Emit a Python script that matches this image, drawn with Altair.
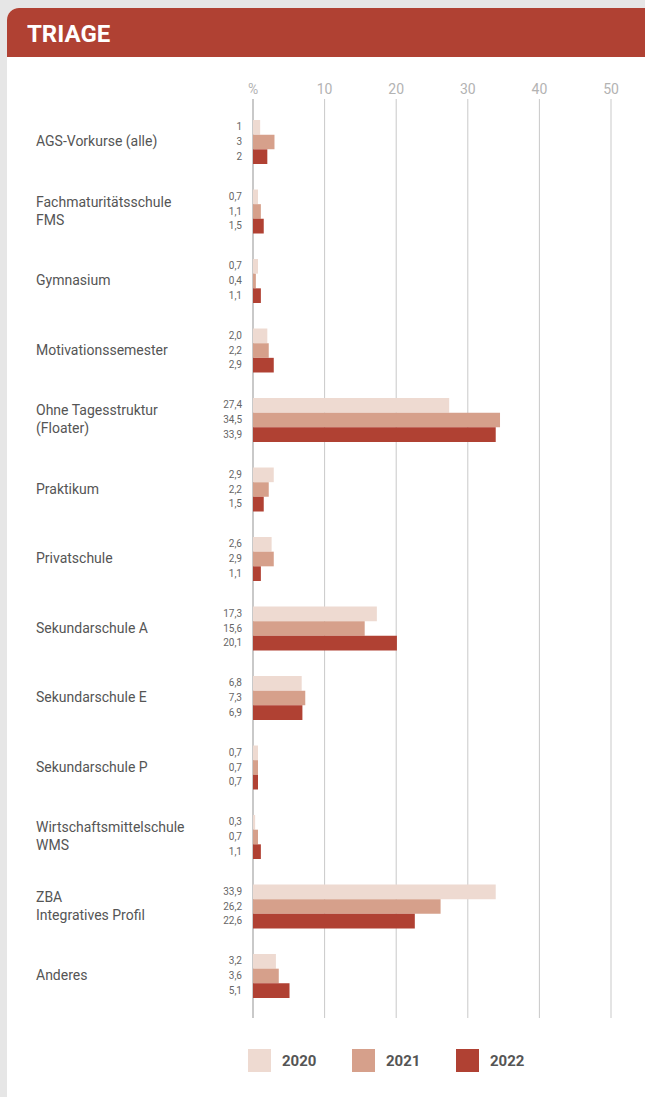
import altair as alt
import pandas as pd

categories = [
    "AGS-Vorkurse (alle)",
    "Fachmaturitätsschule\nFMS",
    "Gymnasium",
    "Motivationssemester",
    "Ohne Tagesstruktur\n(Floater)",
    "Praktikum",
    "Privatschule",
    "Sekundarschule A",
    "Sekundarschule E",
    "Sekundarschule P",
    "Wirtschaftsmittelschule\nWMS",
    "ZBA\nIntegratives Profil",
    "Anderes",
]
years = ["2020", "2021", "2022"]
v2020 = [1, 0.7, 0.7, 2.0, 27.4, 2.9, 2.6, 17.3, 6.8, 0.7, 0.3, 33.9, 3.2]
v2021 = [3, 1.1, 0.4, 2.2, 34.5, 2.2, 2.9, 15.6, 7.3, 0.7, 0.7, 26.2, 3.6]
v2022 = [2, 1.5, 1.1, 2.9, 33.9, 1.5, 1.1, 20.1, 6.9, 0.7, 1.1, 22.6, 5.1]
integer_rows = ["AGS-Vorkurse (alle)"]
colors = ["#eedad1", "#d6a08b", "#b04133"]
tick_values = [0, 10, 20, 30, 40, 50]
tick_labels = ["%", "10", "20", "30", "40", "50"]

rows = []
for i, c in enumerate(categories):
    for y, vals in zip(years, [v2020, v2021, v2022]):
        v = vals[i]
        if c in integer_rows:
            lab = f"{v:g}"
        else:
            lab = f"{v:.1f}".replace(".", ",")
        rows.append({"cat": c, "year": y, "value": v, "label": lab})
df = pd.DataFrame(rows)
cat_df = pd.DataFrame({"cat": categories})
tick_df = pd.DataFrame({"tick": tick_values, "tlabel": tick_labels})

FONT = "Roboto"
xscale = alt.Scale(domain=[0, 50], range=[253, 611], nice=False, zero=True)
yscale = alt.Scale(domain=categories, range=[107.25, 1010.75], paddingInner=0, paddingOuter=0)
yoff = alt.Scale(domain=years, paddingInner=0, paddingOuter=0.87)

# card + header
card = alt.Chart(pd.DataFrame({"a": [1]})).mark_rect(
    color="white", cornerRadius=12
).encode(x=alt.value(7), x2=alt.value(700), y=alt.value(8), y2=alt.value(1200))
header = alt.Chart(pd.DataFrame({"a": [1]})).mark_rect(
    color="#b04133", cornerRadiusTopLeft=12
).encode(x=alt.value(7), x2=alt.value(700), y=alt.value(8), y2=alt.value(57))
title = alt.Chart(pd.DataFrame({"t": ["TRIAGE"]})).mark_text(
    align="left", baseline="middle", font=FONT, fontSize=24, fontWeight="bold",
    color="white"
).encode(x=alt.value(27), y=alt.value(35), text="t:N")

grid = alt.Chart(tick_df).mark_rule(color="#c9c9c9").encode(
    x=alt.X("tick:Q", scale=xscale, axis=None),
    y=alt.value(99), y2=alt.value(1018),
    strokeWidth=alt.condition("datum.tick == 0", alt.value(2), alt.value(1)),
)
ticks = alt.Chart(tick_df).mark_text(
    baseline="middle", align="center", font=FONT, fontSize=14, color="#b3b3b3"
).encode(x=alt.X("tick:Q", scale=xscale, axis=None), y=alt.value(90), text="tlabel:N")

bars = alt.Chart(df).mark_bar().encode(
    x=alt.X("value:Q", scale=xscale, axis=None),
    y=alt.Y("cat:N", scale=yscale, axis=None, sort=categories),
    yOffset=alt.YOffset("year:N", scale=yoff, sort=years),
    color=alt.Color(
        "year:N",
        scale=alt.Scale(domain=years, range=colors),
        legend=alt.Legend(
            orient="none", legendX=248, legendY=1049, direction="horizontal",
            title=None, symbolType="square", symbolSize=529, symbolStrokeWidth=0,
            symbolOpacity=1, labelFont=FONT, labelFontSize=15, labelFontWeight="bold",
            labelColor="#555555", labelOffset=11, columnPadding=35, padding=0,
        ),
    ),
)
vlabels = alt.Chart(df).mark_text(
    align="right", baseline="middle", font=FONT, fontSize=10, color="#666666"
).encode(
    x=alt.value(242),
    y=alt.Y("cat:N", scale=yscale, axis=None, sort=categories),
    yOffset=alt.YOffset("year:N", scale=yoff, sort=years),
    text="label:N",
)
clabels1 = alt.Chart(cat_df).transform_filter(
    "indexof(datum.cat, '\\n') < 0"
).mark_text(
    align="left", baseline="middle", font=FONT, fontSize=14, color="#555555",
).encode(
    x=alt.value(36),
    y=alt.Y("cat:N", scale=yscale, axis=None, sort=categories),
    text="cat:N",
)
clabels2 = alt.Chart(cat_df).transform_filter(
    "indexof(datum.cat, '\\n') >= 0"
).mark_text(
    align="left", baseline="middle", font=FONT, fontSize=14, color="#555555",
    lineBreak="\n", lineHeight=18, dy=-9
).encode(
    x=alt.value(36),
    y=alt.Y("cat:N", scale=yscale, axis=None, sort=categories),
    text="cat:N",
)

chart = alt.layer(card, header, title, grid, ticks, bars, vlabels, clabels1, clabels2).properties(
    width=645, height=1097, padding=0, background="#e6e6e6",
    autosize=alt.AutoSizeParams(type="none"),
).configure_view(stroke=None)

chart.save("out.html", embed_options={"renderer": "svg", "actions": False})
